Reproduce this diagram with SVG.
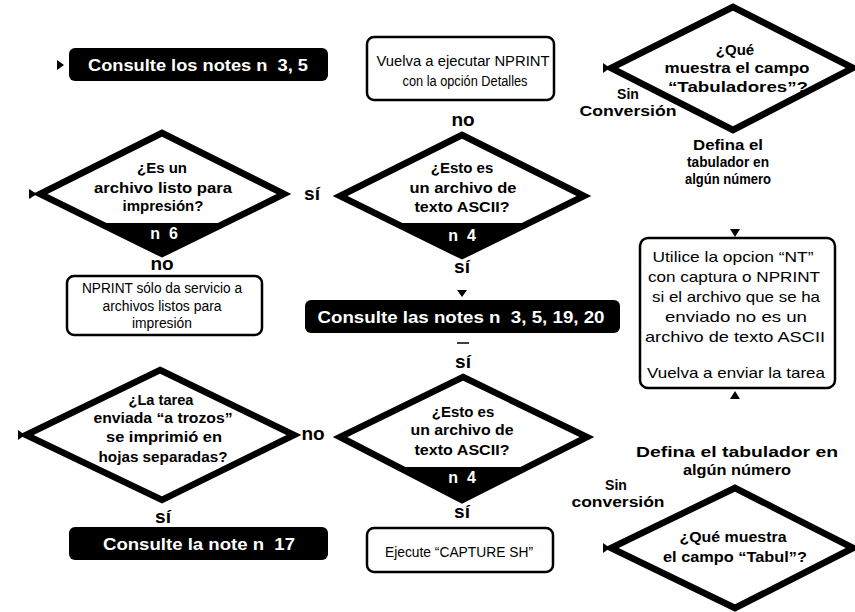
<svg xmlns="http://www.w3.org/2000/svg" width="855" height="612" viewBox="0 0 855 612">
<style>
.dia{fill:#fff;stroke:#000;stroke-width:6.5;stroke-linejoin:miter}
.band{fill:#000}
.blk{fill:#000}
.box{fill:#fff;stroke:#000;stroke-width:2.5}
.dt{font-family:"Liberation Sans",Arial,sans-serif;font-weight:bold;font-size:15px;fill:#000;text-anchor:middle}
.bt{font-family:"Liberation Sans",Arial,sans-serif;font-weight:bold;font-size:16px;fill:#fff;text-anchor:middle;white-space:pre}
.hd{font-family:"Liberation Sans",Arial,sans-serif;font-weight:bold;font-size:17px;fill:#fff;text-anchor:middle;white-space:pre}
.lb{font-family:"Liberation Sans",Arial,sans-serif;font-weight:bold;font-size:19px;fill:#000;text-anchor:middle}
.sl{font-family:"Liberation Sans",Arial,sans-serif;font-weight:bold;font-size:14px;fill:#000;text-anchor:middle}
.rt{font-family:"Liberation Sans",Arial,sans-serif;font-size:14px;fill:#000;text-anchor:middle}
.rt2{font-family:"Liberation Sans",Arial,sans-serif;font-size:15px;fill:#000;text-anchor:middle}
.ah{fill:#000}
</style>
<rect width="855" height="612" fill="#fff"/>

<g id="connectors">
  <polygon class="ah" points="57,60 64,65 57,70"/>
  <polygon class="ah" points="29,189 37,194 29,199"/>
  <polygon class="ah" points="18,430 25,435 18,440"/>
  <polygon class="ah" points="603,63 610,68 603,73"/>
  <polygon class="ah" points="603,543 610,548 603,553"/>
  <polygon class="ah" points="457,290 467,290 462,297"/>
  <polygon class="ah" points="730,229 740,229 735,237"/>
  <polygon class="ah" points="730,399 740,399 735,391"/>
  <line x1="457" y1="343" x2="469" y2="343" stroke="#000" stroke-width="1.5"/>
</g>

<g id="n-consulte-3-5">
  <rect class="blk" x="69" y="48" width="259" height="33" rx="6"/>
  <text class="hd" x="198" y="71" textLength="220" lengthAdjust="spacingAndGlyphs">Consulte los notes n  3, 5</text>
</g>

<g id="n-vuelva-ejecutar">
  <rect class="box" x="367" y="37" width="187" height="63" rx="7"/>
  <text class="rt" x="463" y="66" textLength="173" lengthAdjust="spacingAndGlyphs">Vuelva a ejecutar NPRINT</text>
  <text class="rt" x="465" y="86" textLength="125" lengthAdjust="spacingAndGlyphs">con la opción Detalles</text>
</g>

<g id="n-tabuladores">
  <polygon class="dia" points="733,7 853,68 733,130 611,68"/>
  <text class="dt" x="735" y="55">¿Qué</text>
  <text class="dt" x="737" y="73" textLength="145" lengthAdjust="spacingAndGlyphs">muestra el campo</text>
  <text class="dt" x="738" y="92" textLength="140" lengthAdjust="spacingAndGlyphs">“Tabuladores”?</text>
  <text class="sl" x="628" y="99">Sin</text>
  <text class="sl" x="628" y="116" textLength="97" lengthAdjust="spacingAndGlyphs">Conversión</text>
  <text class="sl" x="728" y="150" textLength="70" lengthAdjust="spacingAndGlyphs">Defina el</text>
  <text class="sl" x="728" y="167" textLength="82" lengthAdjust="spacingAndGlyphs">tabulador en</text>
  <text class="sl" x="728" y="184" textLength="86" lengthAdjust="spacingAndGlyphs">algún número</text>
</g>

<g id="n-listo-impresion">
  <polygon class="dia" points="162,133 284,194 162,254 40,194"/>
  <polygon class="band" points="99,223 225,223 162,254"/>
  <text class="dt" x="162" y="173">¿Es un</text>
  <text class="dt" x="163" y="193" textLength="138" lengthAdjust="spacingAndGlyphs">archivo listo para</text>
  <text class="dt" x="163" y="211">impresión?</text>
  <text class="bt" x="164" y="239">n  6</text>
  <text class="lb" x="312" y="200">sí</text>
  <text class="lb" x="162" y="270">no</text>
</g>

<g id="n-nprint-solo">
  <rect class="box" x="67" y="276" width="195" height="59" rx="7"/>
  <text class="rt" x="162" y="293" textLength="160" lengthAdjust="spacingAndGlyphs">NPRINT sólo da servicio a</text>
  <text class="rt" x="162" y="311" textLength="119" lengthAdjust="spacingAndGlyphs">archivos listos para</text>
  <text class="rt" x="162" y="328" textLength="60" lengthAdjust="spacingAndGlyphs">impresión</text>
</g>

<g id="n-ascii-1">
  <text class="lb" x="463" y="126">no</text>
  <polygon class="dia" points="462,135 584,196 462,256 340,196"/>
  <polygon class="band" points="396,223 528,223 462,256"/>
  <text class="dt" x="462" y="173">¿Esto es</text>
  <text class="dt" x="463" y="193" textLength="107" lengthAdjust="spacingAndGlyphs">un archivo de</text>
  <text class="dt" x="462" y="212" textLength="95" lengthAdjust="spacingAndGlyphs">texto ASCII?</text>
  <text class="bt" x="462" y="241">n  4</text>
  <text class="lb" x="462" y="273">sí</text>
</g>

<g id="n-consulte-3-5-19-20">
  <rect class="blk" x="305" y="300" width="315" height="33" rx="6"/>
  <text class="hd" x="461" y="323" textLength="287" lengthAdjust="spacingAndGlyphs">Consulte las notes n  3, 5, 19, 20</text>
</g>

<g id="n-utilice-nt">
  <rect class="box" x="640" y="238" width="195" height="150" rx="8"/>
  <text class="rt2" x="733" y="262" textLength="161" lengthAdjust="spacingAndGlyphs">Utilice la opcion “NT”</text>
  <text class="rt2" x="734" y="282" textLength="172" lengthAdjust="spacingAndGlyphs">con captura o NPRINT</text>
  <text class="rt2" x="736" y="302" textLength="168" lengthAdjust="spacingAndGlyphs">si el archivo que se ha</text>
  <text class="rt2" x="736" y="322" textLength="142" lengthAdjust="spacingAndGlyphs">enviado no es un</text>
  <text class="rt2" x="735" y="342" textLength="180" lengthAdjust="spacingAndGlyphs">archivo de texto ASCII</text>
  <text class="rt2" x="736" y="378" textLength="178" lengthAdjust="spacingAndGlyphs">Vuelva a enviar la tarea</text>
</g>

<g id="n-trozos">
  <polygon class="dia" points="160,370 294,435 162,500 26,435"/>
  <text class="dt" x="161" y="405" textLength="65" lengthAdjust="spacingAndGlyphs">¿La tarea</text>
  <text class="dt" x="163" y="423" textLength="139" lengthAdjust="spacingAndGlyphs">enviada “a trozos”</text>
  <text class="dt" x="164" y="442" textLength="116" lengthAdjust="spacingAndGlyphs">se imprimió en</text>
  <text class="dt" x="163" y="462" textLength="129" lengthAdjust="spacingAndGlyphs">hojas separadas?</text>
  <text class="lb" x="313" y="440">no</text>
  <text class="lb" x="163" y="523">sí</text>
</g>

<g id="n-consulte-17">
  <rect class="blk" x="69" y="527" width="259" height="33" rx="6"/>
  <text class="hd" x="199" y="550" textLength="192" lengthAdjust="spacingAndGlyphs">Consulte la note n  17</text>
</g>

<g id="n-ascii-2">
  <text class="lb" x="463" y="368">sí</text>
  <polygon class="dia" points="463,377 587,437 462,500 340,437"/>
  <polygon class="band" points="401,467 523,467 462,500"/>
  <text class="dt" x="463" y="417">¿Esto es</text>
  <text class="dt" x="462" y="435" textLength="103" lengthAdjust="spacingAndGlyphs">un archivo de</text>
  <text class="dt" x="462" y="455" textLength="95" lengthAdjust="spacingAndGlyphs">texto ASCII?</text>
  <text class="bt" x="462" y="483">n  4</text>
  <text class="lb" x="462" y="518">sí</text>
</g>

<g id="n-capture-sh">
  <rect class="box" x="367" y="528" width="186" height="44" rx="7"/>
  <text class="rt" x="459" y="557" textLength="148" lengthAdjust="spacingAndGlyphs">Ejecute “CAPTURE SH”</text>
</g>

<g id="n-tabul">
  <text class="sl" x="737" y="457" font-size="16" textLength="202" lengthAdjust="spacingAndGlyphs">Defina el tabulador en</text>
  <text class="sl" x="737" y="475" font-size="16" textLength="108" lengthAdjust="spacingAndGlyphs">algún número</text>
  <text class="sl" x="616" y="490">Sin</text>
  <text class="sl" x="618" y="507" textLength="93" lengthAdjust="spacingAndGlyphs">conversión</text>
  <polygon class="dia" points="735,488 853,548 735,608 611,548"/>
  <text class="dt" x="733" y="542" textLength="107" lengthAdjust="spacingAndGlyphs">¿Qué muestra</text>
  <text class="dt" x="735" y="562" textLength="144" lengthAdjust="spacingAndGlyphs">el campo “Tabul”?</text>
</g>
</svg>
